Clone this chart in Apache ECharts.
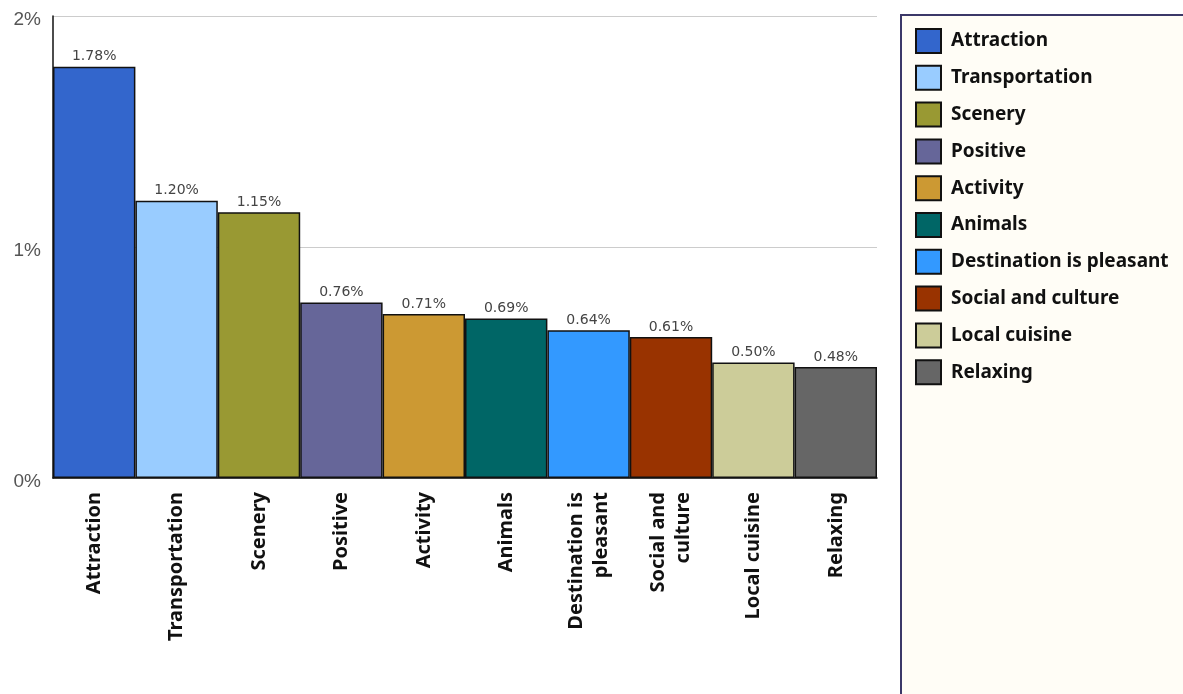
<!DOCTYPE html>
<html><head><meta charset="utf-8">
<script src="https://cdn.jsdelivr.net/npm/echarts@6/dist/echarts.min.js"></script>
<style>html,body{margin:0;padding:0;background:#fff}#c{width:1183px;height:694px}</style>
</head><body><div id="c"></div>
<script>
const categories = ["Attraction","Transportation","Scenery","Positive","Activity","Animals","Destination is pleasant","Social and culture","Local cuisine","Relaxing"];
const axisLabels = ["Attraction","Transportation","Scenery","Positive","Activity","Animals","Destination is\npleasant","Social and\nculture","Local cuisine","Relaxing"];
const values = [1.78,1.20,1.15,0.76,0.71,0.69,0.64,0.61,0.50,0.48];
const colors = ["#3366cc","#99ccff","#999933","#666699","#cc9933","#006666","#3399ff","#993300","#cccc99","#666666"];
const yTicks = ["0%","1%","2%"];

const chart = echarts.init(document.getElementById('c'));
const series = categories.map((name,i)=>({
  name: name,
  type: 'bar',
  barGap: '-100%',
  barCategoryGap: 0,
  data: values.map((v,j)=> j===i ? v : '-'),
  itemStyle: {color: colors[i], borderColor:'#111', borderWidth:1.5},
  label: {show:true, position:'top', distance:3, formatter: p => p.value.toFixed(2)+'%',
    color:'#444', fontFamily:'DejaVu Sans', fontSize:14},
  animation:false
}));
chart.setOption({
  animation:false,
  backgroundColor:'#fff',
  grid:{left:53, right:306, top:16, bottom:216, containLabel:false},
  graphic:[{type:'rect', left:900, top:14, shape:{width:300, height:700},
    style:{fill:'#fffdf6', stroke:'#3b3868', lineWidth:2}, z:-1}],
  legend:{orient:'vertical', left:910, top:23, itemWidth:25, itemHeight:24, itemGap:10.8,
    icon:'rect', data:categories,
    textStyle:{fontFamily:'Noto Sans', fontWeight:'bold', fontSize:19, color:'#111', lineHeight:24, padding:[0,0,0,5]}},
  xAxis:{type:'category', data:axisLabels,
    axisLine:{lineStyle:{color:'#111', width:1.5}}, axisTick:{show:false},
    axisLabel:{rotate:90, interval:0, margin:14, fontFamily:'Noto Sans', fontWeight:'bold', fontSize:20, color:'#111', lineHeight:25}},
  yAxis:{type:'value', min:0, max:2, interval:1,
    axisLine:{show:true, lineStyle:{color:'#111', width:1.5}}, axisTick:{show:false},
    splitLine:{lineStyle:{color:'#ccc'}},
    axisLabel:{formatter: v => yTicks[Math.round(v)], fontFamily:'Liberation Sans', fontSize:19, color:'#555', margin:12, verticalAlign:'top', lineHeight:19, padding:[-6,0,0,0]}},
  series: series
});
</script></body></html>
